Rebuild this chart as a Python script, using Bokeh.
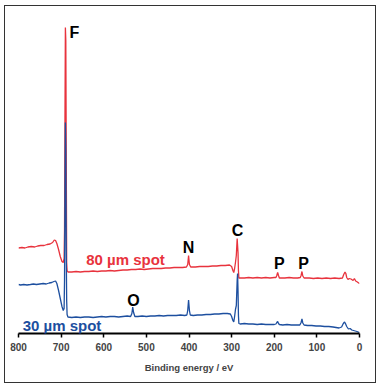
from bokeh.plotting import figure
from bokeh.models import Range1d, FixedTicker, Label
from bokeh.embed import file_html
from bokeh.resources import INLINE

# ---- data (binding energy in eV, intensity in arbitrary units) ----
red_energy = [800, 792, 785, 778, 770, 762, 755, 748, 740, 733, 726, 720, 716, 713, 710, 706, 702, 698, 695, 693,
              692, 691, 690, 689, 688, 687, 686, 684, 675, 665, 655, 645, 635, 625, 615, 605, 595, 585, 575, 565,
              555, 545, 535, 525, 515, 505, 495, 485, 475, 465, 455, 445, 435, 425, 415, 406, 403, 401, 399, 396,
              385, 375, 365, 355, 345, 335, 325, 315, 305, 300, 297, 295, 293, 291, 289, 287, 285, 284, 283, 280,
              270, 260, 250, 240, 230, 220, 210, 200, 196, 194, 192, 190, 188, 175, 165, 155, 145, 139, 137, 135,
              133, 130, 118, 108, 98, 88, 78, 68, 58, 48, 40, 37, 34, 32, 30, 27, 24, 20, 15, 12, 9, 5, 2, 0]
red_counts = [85.5, 86, 85.5, 86.5, 87, 86.5, 87.5, 88, 88, 89, 89.5, 91, 93.5, 93, 90, 84, 77, 72, 71, 75,
              103, 213, 306, 293, 183, 71, 63, 61.5, 61.5, 62, 61.5, 62, 62, 62.5, 62, 62.5, 62.5, 63, 62.5, 63,
              63.5, 63.5, 64, 64, 64.5, 64, 64.5, 65, 65, 65, 65.5, 65.5, 66, 66, 66, 66.5, 69, 78, 69, 66.5,
              66.5, 67, 67, 67, 67.5, 67.5, 68, 68, 68.5, 67, 63, 61, 65, 71, 78, 95, 81, 63, 55.5, 55.5,
              55.5, 56, 55.5, 56, 55.5, 56, 55.5, 56, 56, 58, 61, 58, 55.5, 55.5, 56, 55.5, 55.5, 56, 58, 62,
              57.5, 55.5, 55.5, 55, 55.5, 55, 55.5, 55, 55.5, 55, 55.5, 59, 61.5, 60, 56, 54, 55, 54.5, 53, 55,
              52.5, 51.5, 50.5, 50]

blue_energy = [800, 795, 788, 780, 772, 765, 758, 750, 742, 735, 728, 722, 717, 713, 710, 706, 702, 698, 695, 693,
               692, 691, 690, 689, 688, 687, 686, 684, 675, 665, 655, 645, 635, 625, 615, 605, 595, 585, 575, 565,
               555, 545, 537, 534, 532, 530, 527, 520, 510, 500, 490, 480, 470, 460, 450, 440, 430, 420, 410, 405,
               403, 401, 399, 397, 390, 380, 370, 360, 350, 340, 330, 320, 310, 303, 300, 297, 295, 293, 291, 289,
               287, 286, 285, 284, 283, 280, 270, 260, 250, 240, 230, 220, 210, 200, 196, 194, 192, 190, 188, 180,
               170, 160, 150, 140, 137, 135, 133, 130, 122, 112, 102, 92, 82, 72, 62, 55, 48, 42, 38, 35,
               33, 30, 26, 22, 18, 14, 10, 6, 3, 0]
blue_counts = [49, 48.5, 49, 48.5, 49, 49.5, 49, 49.5, 50, 49.5, 50.5, 51, 52, 52.5, 50, 43, 35, 27, 23, 25,
               53, 133, 211, 183, 83, 33, 19, 16.5, 16, 16.5, 16, 16.5, 16.5, 16, 16.5, 17, 16.5, 17, 17, 16.5,
               17, 17.5, 17, 20, 26.5, 21, 17, 17, 17.5, 17, 17.5, 17.5, 18, 17.5, 18, 18, 18, 18.5, 18, 18.5,
               23, 33.5, 23, 18.5, 18, 18.5, 18.5, 19, 19, 19.5, 19.5, 20, 20, 19.5, 17, 13, 11.5, 17, 24, 28,
               53, 60, 43, 18, 10, 9.5, 10, 9.5, 9.5, 9, 9.5, 9, 9, 9, 9.5, 11, 12, 10, 9, 8.5,
               9, 8.5, 8.5, 8.5, 11, 14.5, 10.5, 8.5, 8, 8, 7.5, 7.5, 7, 7, 6.5, 6, 5.5, 6.5, 10, 11.5,
               10, 7, 4.5, 5, 3.5, 3, 2.5, 2, 1.5, 1]

tick_values = [800, 700, 600, 500, 400, 300, 200, 100, 0]
tick_labels = ["800", "700", "600", "500", "400", "300", "200", "100", "0"]

RED = "#e8333d"
BLUE = "#1d4f9f"
FONT = "Liberation Sans"

W, H = 372, 378
p = figure(width=W, height=H, output_backend="svg", toolbar_location=None,
           x_range=Range1d(800, 0), y_range=Range1d(0, 313),
           min_border_left=13, min_border_right=18, min_border_top=14, min_border_bottom=51,
           background_fill_color="white", border_fill_color="white",
           styles={"border": "1px solid #333333", "margin": "5px 0 0 4px"})
p.outline_line_color = None
p.grid.visible = False
p.yaxis.visible = False

p.line(red_energy, red_counts, line_color=RED, line_width=1.3)
p.line(blue_energy, blue_counts, line_color=BLUE, line_width=1.3)

ax = p.xaxis[0]
ax.ticker = FixedTicker(ticks=tick_values)
ax.major_label_overrides = {v: s for v, s in zip(tick_values, tick_labels)}
ax.axis_line_width = 2
ax.axis_line_color = "black"
ax.major_tick_line_width = 1.5
ax.major_tick_in = 0
ax.major_tick_out = 4
ax.minor_tick_line_color = None
ax.major_label_text_font = FONT
ax.major_label_text_font_style = "bold"
ax.major_label_text_font_size = "10px"
ax.major_label_standoff = 5
ax.axis_label = "Binding energy / eV"
ax.axis_label_text_font = FONT
ax.axis_label_text_font_style = "bold"
ax.axis_label_text_font_size = "9.5px"
ax.axis_label_standoff = 8

peak_labels = [("F", 669, 301), ("N", 401, 86), ("C", 286, 103), ("P", 188, 70), ("P", 131, 70), ("O", 530, 33)]
for t, x, y in peak_labels:
    p.add_layout(Label(x=x, y=y, text=t, text_font=FONT, text_font_style="bold", text_font_size="16px",
                       text_color="black", text_align="center", text_baseline="middle"))

p.add_layout(Label(x=549, y=74, text="80 µm spot", text_font=FONT, text_font_style="bold",
                   text_font_size="15px", text_color=RED, text_align="center", text_baseline="middle"))
p.add_layout(Label(x=698, y=8, text="30 µm spot", text_font=FONT, text_font_style="bold",
                   text_font_size="15px", text_color=BLUE, text_align="center", text_baseline="middle"))

open("out.html", "w").write(file_html(p, INLINE))
